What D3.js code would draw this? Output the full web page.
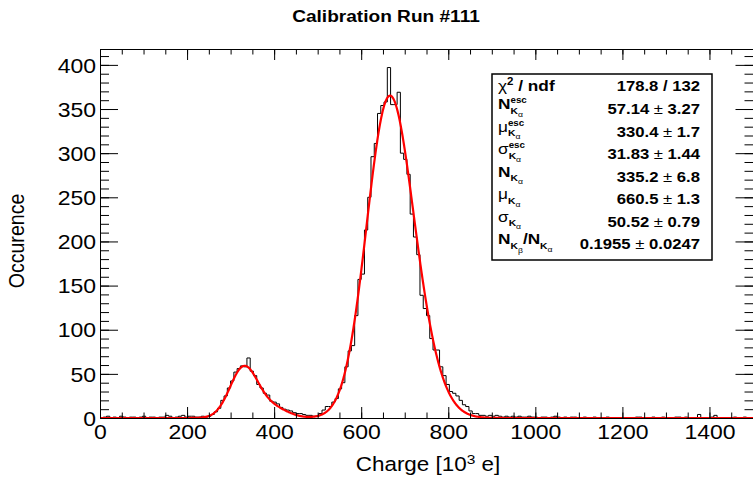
<!DOCTYPE html>
<html><head><meta charset="utf-8">
<script src="https://cdn.jsdelivr.net/npm/d3@7"></script>
<style>
html,body{margin:0;padding:0;background:#fff;}
svg{display:block;font-family:"Liberation Sans",Arial,Helvetica,sans-serif;}
</style></head><body>
<svg id="chart" width="753" height="478"></svg>
<script>
// Charge spectrum: 200 bins of 7.5 (10^3 e) from 0 to 1500
const binLow = 0, binHigh = 1500, binWidth = 7.5;
const counts = [
  0,1,2,0,1,0,2,1,0,1,
  1,0,1,2,0,1,1,0,1,1,
  3,2,0,1,2,3,1,2,2,1,
  1,2,1,2,4,7,11,20,25,34,
  42,52,56,59,58,68,53,48,38,34,
  28,26,19,18,16,12,10,9,8,6,
  5,5,4,3,3,2,2,5,9,13,
  13,18,22,33,40,58,76,82,116,157,
  163,213,250,296,311,345,354,358,397,355,
  355,369,300,293,276,231,205,185,139,124,
  116,90,77,77,58,48,38,30,28,25,
  20,15,13,8,5,5,3,3,2,3,
  2,3,2,1,2,1,2,1,2,1,
  1,2,1,1,0,1,1,0,1,2,
  1,0,1,0,1,1,0,0,1,0,
  0,1,0,0,0,1,0,0,0,0,
  0,0,0,0,1,1,0,0,0,1,
  0,0,1,0,0,0,1,1,0,1,
  0,0,0,4,0,0,0,1,3,0,
  0,0,0,0,1,0,0,1,0,0
];

const xTicks = [0, 200, 400, 600, 800, 1000, 1200, 1400];
const yTicks = [0, 50, 100, 150, 200, 250, 300, 350, 400];
const yMax = 418;

// Fit results (escape peak, K-alpha peak, K-beta / K-alpha ratio)
const fitKeys   = ["chi2", "Nesc", "muEsc", "sigmaEsc", "N", "mu", "sigma", "ratio"];
const fitValues = ["178.8 / 132", "57.14", "330.4", "31.83", "335.2", "660.5", "50.52", "0.1955"];
const fitErrors = [null, "3.27", "1.7", "1.44", "6.8", "1.3", "0.79", "0.0247"];
// line energy ratios used to place the K-beta companions
const kBetaShift = 1.1, kBetaEscShift = 1.2;

const P = {};
fitKeys.forEach((k, i) => { if (i > 0) P[k] = +fitValues[i]; });

const gauss = (v, m, s) => Math.exp(-0.5 * ((v - m) / s) ** 2);
function fitFunc(v) {
  const esc = P.Nesc * (gauss(v, P.muEsc, P.sigmaEsc) +
      P.ratio * gauss(v, P.muEsc * kBetaEscShift, P.sigmaEsc * Math.sqrt(kBetaEscShift)));
  const main = P.N * (gauss(v, P.mu, P.sigma) +
      P.ratio * gauss(v, P.mu * kBetaShift, P.sigma));
  return esc + main;
}

const svg = d3.select("#chart");
const L = 100, R = 753, T = 49, B = 418;
const x = d3.scaleLinear().domain([binLow, binHigh]).range([L, R]);
const y = d3.scaleLinear().domain([0, yMax]).range([B, T]);
const SX = 1.15; // horizontal text stretch

svg.append("defs").append("clipPath").attr("id", "frameClip")
  .append("rect").attr("x", L).attr("y", T - 2).attr("width", R - L).attr("height", B - T + 4);

// histogram outline
const pts = counts.map((c, i) => [binLow + i * binWidth, c]);
pts.push([binHigh, counts[counts.length - 1]]);
const hLine = d3.line().x(d => x(d[0])).y(d => y(d[1])).curve(d3.curveStepAfter);
svg.append("path").attr("d", hLine(pts)).attr("fill", "none")
  .attr("stroke", "#000").attr("stroke-width", 1).attr("clip-path", "url(#frameClip)");

// fit curve
const fitPts = d3.range(binLow, binHigh + 0.5, 1).map(v => [v, fitFunc(v)]);
svg.append("path").attr("d", d3.line().x(d => x(d[0])).y(d => y(d[1]))(fitPts))
  .attr("fill", "none").attr("stroke", "#ff0000").attr("stroke-width", 2.2)
  .attr("stroke-linejoin", "round").attr("clip-path", "url(#frameClip)");

// axes
function styleAxis(g) {
  g.select(".domain").remove();
  g.selectAll(".tick line").attr("stroke", "#000");
}
const minorX = d3.range(binLow, binHigh + 1, 50);
const minorY = d3.range(0, yMax + 1, 10);
const fmt = d3.format("d");

svg.append("g").attr("transform", `translate(0,${B})`)
  .call(d3.axisBottom(x).tickValues(minorX).tickSize(-5.5).tickFormat("")).call(styleAxis);
const xAx = svg.append("g").attr("transform", `translate(0,${B})`)
  .call(d3.axisBottom(x).tickValues(xTicks).tickSize(-11).tickPadding(0).tickFormat(fmt)).call(styleAxis);
xAx.selectAll(".tick text").attr("font-size", 20).attr("fill", "#000")
  .attr("font-family", "Liberation Sans, Arial, sans-serif")
  .attr("y", 21).attr("dy", 0).attr("transform", `scale(${SX},1)`);

svg.append("g").attr("transform", `translate(0,${T})`)
  .call(d3.axisTop(x).tickValues(minorX).tickSize(-5.5).tickFormat("")).call(styleAxis);
svg.append("g").attr("transform", `translate(0,${T})`)
  .call(d3.axisTop(x).tickValues(xTicks).tickSize(-11).tickFormat("")).call(styleAxis);

svg.append("g").attr("transform", `translate(${L},0)`)
  .call(d3.axisLeft(y).tickValues(minorY).tickSize(-9).tickFormat("")).call(styleAxis);
const yAx = svg.append("g").attr("transform", `translate(${L},0)`)
  .call(d3.axisLeft(y).tickValues(yTicks).tickSize(-18).tickPadding(0).tickFormat(fmt)).call(styleAxis);
yAx.selectAll(".tick text").attr("font-size", 20).attr("fill", "#000")
  .attr("font-family", "Liberation Sans, Arial, sans-serif")
  .attr("x", -4 / SX).attr("dy", "0.36em").attr("transform", `scale(${SX},1)`);

svg.append("g").attr("transform", `translate(${R + 0.5},0)`)
  .call(d3.axisRight(y).tickValues(minorY).tickSize(-9).tickFormat("")).call(styleAxis);
svg.append("g").attr("transform", `translate(${R + 0.5},0)`)
  .call(d3.axisRight(y).tickValues(yTicks).tickSize(-18).tickFormat("")).call(styleAxis);

// frame (right edge sits on the page border)
svg.append("path")
  .attr("d", `M${R + 1},${T + 0.5}H${L + 0.5}V${B + 0.5}H${R + 1}`)
  .attr("fill", "none").attr("stroke", "#000").attr("stroke-width", 1);

// titles
function sText(px, py, size, anchor, weight) {
  return svg.append("g").attr("transform", `translate(${px},${py}) scale(${SX},1)`)
    .append("text").attr("font-size", size).attr("text-anchor", anchor)
    .attr("font-weight", weight).attr("fill", "#000");
}
sText(386, 22, 16.6, "middle", "bold").text("Calibration Run #111");

const xt = sText(428, 471, 19.5, "middle", "normal");
xt.append("tspan").text("Charge [10");
xt.append("tspan").attr("font-size", 13.5).attr("dy", -7.5).text("3");
xt.append("tspan").attr("dy", 7.5).text("\u00a0e]");

svg.append("g").attr("transform", `translate(24,241) rotate(-90) scale(1,${SX})`)
  .append("text").attr("font-size", 19.6).attr("text-anchor", "middle").attr("fill", "#000")
  .text("Occurence");

// statistics box
const box = {x: 492, y: 74, w: 220, h: 186};
svg.append("rect").attr("x", box.x).attr("y", box.y).attr("width", box.w).attr("height", box.h)
  .attr("fill", "#fff").attr("stroke", "#000").attr("stroke-width", 1.5);

const rowBase = [90.5, 114, 136.5, 159, 181.5, 204, 226.5, 249];
const M = {s: 15, w: "bold", y: -5};
const Ksub = {t: "K", s: 9, w: "bold", y: -0.5};
const aSub = {t: "α", s: 7.5, w: "normal", y: 2.5};
const escSup = {t: "esc", s: 8.5, w: "bold", y: -11, atMark: true};
const labelParts = [
  [{t: "χ", s: 15, w: "normal", y: 0}, {t: "2", s: 10, w: "bold", y: -6}, {t: "\u00a0/ ndf", s: 15, w: "bold", y: 0}],
  [{...M, t: "N"}, {...Ksub, mark: true}, aSub, escSup],
  [{...M, t: "μ", w: "normal"}, {...Ksub, mark: true}, aSub, escSup],
  [{...M, t: "σ", w: "normal"}, {...Ksub, mark: true}, aSub, escSup],
  [{...M, t: "N"}, Ksub, aSub],
  [{...M, t: "μ", w: "normal"}, Ksub, aSub],
  [{...M, t: "σ", w: "normal"}, Ksub, aSub],
  [{...M, t: "N"}, Ksub, {...aSub, t: "β", y: 3.5}, {...M, t: "/N"}, Ksub, aSub]
];

labelParts.forEach((parts, r) => {
  const g = svg.append("g").attr("transform", `translate(498,${rowBase[r]}) scale(${SX},1)`);
  let cx = 0, mark = 0;
  parts.forEach(p => {
    const px = p.atMark ? mark : cx;
    if (p.mark) mark = cx;
    const t = g.append("text").attr("x", px).attr("y", p.y).attr("font-size", p.s)
      .attr("font-weight", p.w).attr("fill", "#000").text(p.t);
    const w = t.node().getComputedTextLength();
    cx = p.atMark ? Math.max(cx, px + w) : px + w;
  });
});

fitValues.forEach((v, r) => {
  const t = sText(700, rowBase[r], 14.5, "end", "bold");
  if (fitErrors[r] === null) { t.text(v); return; }
  t.append("tspan").text(v + "\u00a0");
  t.append("tspan").attr("font-weight", "normal").text("±");
  t.append("tspan").text("\u00a0" + fitErrors[r]);
});
</script>
</body></html>
